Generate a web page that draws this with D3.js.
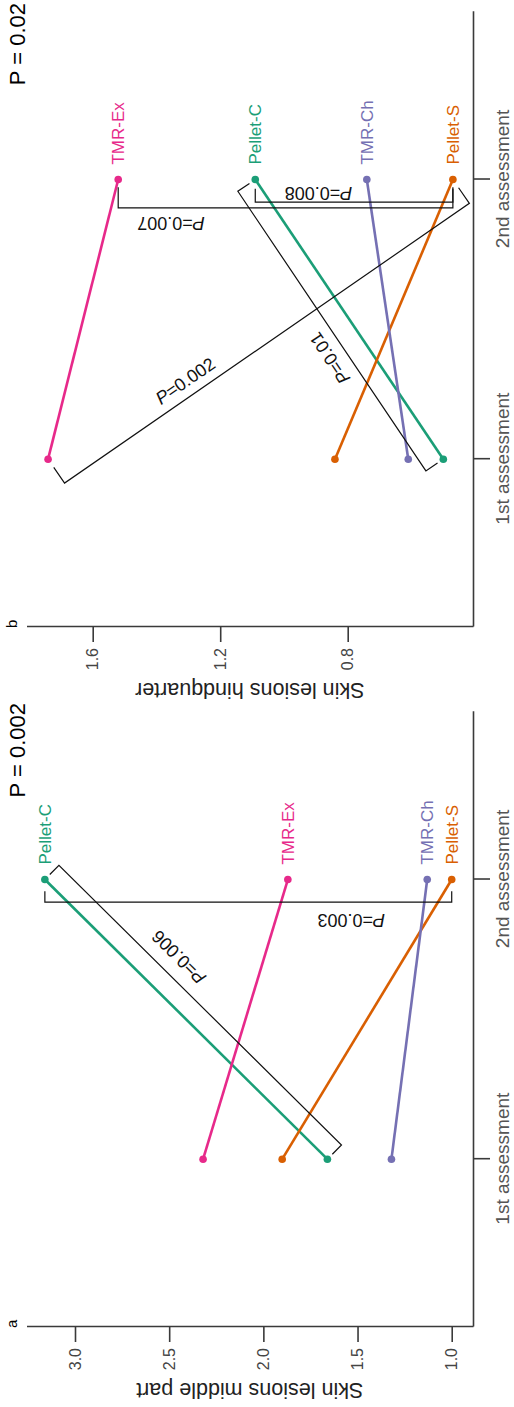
<!DOCTYPE html>
<html lang="en">
	<head>
		<meta charset="utf-8">
		<title>Skin lesions slope charts</title>
		<script src="https://cdn.jsdelivr.net/npm/d3@7"></script>
		<style>
			body { margin: 0; background: #fff; }
			svg { display: block; }
			text { font-family: "Liberation Sans", Arial, sans-serif; }
		</style>
	</head>
	<body>
		<script>

			//Data
			let assessments = ["1st assessment", "2nd assessment"];
			let diets = ["Pellet-C", "Pellet-S", "TMR-Ch", "TMR-Ex"];

			let middle1st = [1.66, 1.90, 1.32, 2.32];
			let middle2nd = [3.16, 1.00, 1.13, 1.87];
			let hind1st = [0.50, 0.84, 0.61, 1.74];
			let hind2nd = [1.09, 0.47, 0.74, 1.52];

			let middleTicks = [1.0, 1.5, 2.0, 2.5, 3.0];
			let hindTicks = [0.8, 1.2, 1.6];

			//Pairwise comparisons: [diet, assessment] -> [diet, assessment]
			let middleBrackets = [
				{ from: ["Pellet-C", 2], to: ["Pellet-S", 2], label: "0.003" },
				{ from: ["Pellet-C", 1], to: ["Pellet-C", 2], label: "0.006" }
			];
			let hindBrackets = [
				{ from: ["Pellet-C", 2], to: ["Pellet-S", 2], label: "0.008" },
				{ from: ["TMR-Ex", 2], to: ["Pellet-S", 2], label: "0.007" },
				{ from: ["TMR-Ex", 1], to: ["Pellet-S", 2], label: "0.002" },
				{ from: ["Pellet-C", 2], to: ["Pellet-C", 1], label: "0.01" }
			];

			//Bracket geometry (leg start, bracket offset, label position and offset)
			let middleBracketLayout = [
				{ leg: 11.7, off: 22.7, t: 0.753, lo: 41 },
				{ leg: 7, off: 20, t: 0.623, lo: 39 }
			];
			let hindBracketLayout = [
				{ leg: 9.3, off: 22.7, t: 0.32, lo: 13.7 },
				{ leg: 7.7, off: 28.3, t: 0.158, lo: 44 },
				{ leg: 10, off: 29, t: 0.32, lo: 13.5 },
				{ leg: 7, off: 21, t: 0.563, lo: 37.8 }
			];

			let panels = [
				{ letter: "a", shift: 0, title: "Skin lesions middle part", p: "P = 0.002",
				  first: middle1st, second: middle2nd, ticks: middleTicks, domain: [0.887, 3.2575],
				  brackets: middleBrackets, layout: middleBracketLayout },
				{ letter: "b", shift: 700, title: "Skin lesions hindquarter", p: "P = 0.02",
				  first: hind1st, second: hind2nd, ticks: hindTicks, domain: [0.4069, 1.8077],
				  brackets: hindBrackets, layout: hindBracketLayout }
			];

			let color = d3.scaleOrdinal().domain(diets).range(d3.schemeDark2);

			//Page is portrait, figure was landscape: draw landscape, then rotate
			let pw = 514;
			let ph = 1407;

			let svg = d3.select("body")
						.append("svg")
						  .attr("width", pw)
						  .attr("height", ph);

			let root = svg.append("g")
						.attr("transform", `translate(0,${ph}) rotate(-90)`);

			let x = d3.scaleLinear().domain([0.4, 2.6]).range([80, 695.3]);

			panels.forEach(panel => {
				let pg = root.append("g").attr("transform", `translate(${panel.shift},0)`);
				let y = d3.scaleLinear().domain(panel.domain).range([473, 26.5]);

				//Value axis
				let ya = pg.append("g")
					.attr("transform", "translate(80,0)")
					.call(d3.axisLeft(y).tickValues(panel.ticks).tickFormat(d3.format(".1f"))
						.tickSize(15).tickSizeOuter(0).tickPadding(6));
				ya.selectAll("path, line").attr("stroke", "#3a3a3a").attr("stroke-width", 1.6);
				ya.selectAll("text").attr("font-size", 16).attr("fill", "#444")
					.attr("font-family", "Liberation Sans, Arial, sans-serif");

				//Assessment axis
				let xa = pg.append("g")
					.attr("transform", "translate(0,473)")
					.call(d3.axisBottom(x).tickValues([1, 2]).tickFormat(d => assessments[d - 1])
						.tickSize(17).tickSizeOuter(0).tickPadding(6));
				xa.selectAll("path, line").attr("stroke", "#3a3a3a").attr("stroke-width", 1.6);
				xa.selectAll("text").attr("font-size", 19).attr("fill", "#555")
					.attr("font-family", "Liberation Sans, Arial, sans-serif");

				//Axis title
				pg.append("text")
					.attr("transform", `translate(24,${(y.range()[0] + y.range()[1]) / 2}) rotate(-90)`)
					.attr("text-anchor", "middle")
					.attr("font-size", 21.5)
					.attr("fill", "#222")
					.text(panel.title);

				//Panel letter and overall P
				pg.append("text")
					.attr("x", 79).attr("y", 17)
					.attr("font-size", 15)
					.text(panel.letter);

				pg.append("text")
					.attr("x", 704).attr("y", 25)
					.attr("text-anchor", "end")
					.attr("font-size", 22)
					.text(panel.p);

				let pt = (diet, a) => {
					let i = diets.indexOf(diet);
					return [x(a), y(a === 1 ? panel.first[i] : panel.second[i])];
				};

				//Slopes
				let rows = diets.map((d, i) => ({ diet: d, v1: panel.first[i], v2: panel.second[i] }));

				pg.selectAll("line.slope")
					.data(rows)
					.enter()
				  .append("line")
					.attr("class", "slope")
					.attr("x1", x(1)).attr("y1", d => y(d.v1))
					.attr("x2", x(2)).attr("y2", d => y(d.v2))
					.attr("stroke", d => color(d.diet))
					.attr("stroke-width", 2.6);

				rows.forEach(d => {
					[[1, d.v1], [2, d.v2]].forEach(([a, v]) => {
						pg.append("circle")
							.attr("cx", x(a)).attr("cy", y(v)).attr("r", 3.8)
							.attr("fill", color(d.diet));
					});
				});

				pg.selectAll("text.diet")
					.data(rows)
					.enter()
				  .append("text")
					.attr("class", "diet")
					.attr("x", x(2) + 15)
					.attr("y", d => y(d.v2))
					.attr("dy", "0.35em")
					.attr("font-size", 17)
					.attr("fill", d => color(d.diet))
					.text(d => d.diet);

				//Brackets
				panel.brackets.forEach((b, k) => {
					let lay = panel.layout[k];
					let p1 = pt(b.from[0], b.from[1]);
					let p2 = pt(b.to[0], b.to[1]);
					let dx = p2[0] - p1[0], dy = p2[1] - p1[1];
					let len = Math.hypot(dx, dy);
					let u = [dx / len, dy / len];
					let n = [-u[1], u[0]];
					let off = (p, s) => [p[0] + s * n[0], p[1] + s * n[1]];

					pg.append("path")
						.attr("d", d3.line()([off(p1, lay.leg), off(p1, lay.off), off(p2, lay.off), off(p2, lay.leg)]))
						.attr("fill", "none")
						.attr("stroke", "#111")
						.attr("stroke-width", 1.2);

					let ang = Math.atan2(u[1], u[0]) * 180 / Math.PI;
					if (ang >= 90) ang -= 180;
					if (ang < -90) ang += 180;
					let c = [p1[0] + lay.t * dx + lay.lo * n[0], p1[1] + lay.t * dy + lay.lo * n[1]];

					let lt = pg.append("text")
						.attr("transform", `translate(${c[0]},${c[1]}) rotate(${ang})`)
						.attr("text-anchor", "middle")
						.attr("dy", "0.35em")
						.attr("font-size", 18)
						.attr("fill", "#111");
					lt.append("tspan").attr("font-style", "italic").text("P");
					lt.append("tspan").text("=" + b.label);
				});
			});

		</script>
	</body>
</html>
